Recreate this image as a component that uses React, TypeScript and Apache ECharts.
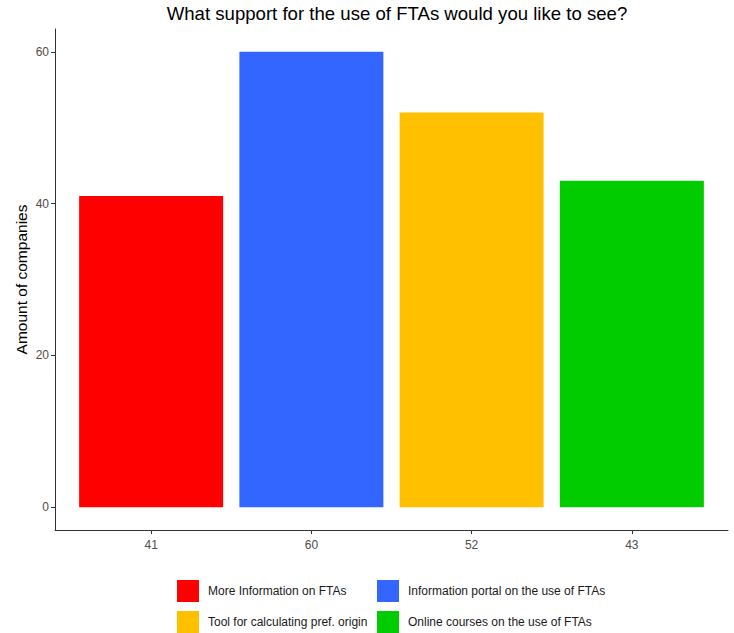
import React, { useEffect, useRef } from "react";
import * as echarts from "echarts";

const TITLE = "What support for the use of FTAs would you like to see?";
const Y_TITLE = "Amount of companies";
const SERIES_NAMES = [
  "More Information on FTAs",
  "Information portal on the use of FTAs",
  "Tool for calculating pref. origin",
  "Online courses on the use of FTAs",
];
const VALUES = [41, 60, 52, 43];
const X_LABELS = ["41", "60", "52", "43"];
const COLORS = ["#FF0000", "#3366FF", "#FFC000", "#00CC00"];
const Y_TICKS = [0, 20, 40, 60];
const X_POS = [1, 2, 3, 4];

export default function App() {
  const ref = useRef<HTMLDivElement>(null);
  useEffect(() => {
    if (!ref.current) return;
    const chart = echarts.init(ref.current, undefined, { renderer: "svg" });
    const font = "Liberation Sans, Arial, sans-serif";
    const legendPos = [
      { left: 177, top: 580 },
      { left: 377, top: 580 },
      { left: 177, top: 611 },
      { left: 377, top: 611 },
    ];
    chart.setOption({
      animation: false,
      backgroundColor: "#ffffff",
      textStyle: { fontFamily: font },
      title: {
        text: TITLE,
        left: 397,
        top: 4,
        padding: 0,
        textAlign: "center",
        textStyle: { fontSize: 18.6, fontWeight: "normal", color: "#000", fontFamily: font },
      },
      grid: { left: 55, right: 6, top: 29, bottom: 103, containLabel: false },
      xAxis: {
        type: "value",
        min: 0.4,
        max: 4.6,
        splitLine: { show: false },
        axisLine: { show: true, onZero: false, lineStyle: { color: "#333", width: 1 } },
        axisTick: { show: true, customValues: X_POS, length: 4, lineStyle: { color: "#333" } },
        axisLabel: {
          customValues: X_POS,
          formatter: (v: number) => X_LABELS[Math.round(v) - 1] ?? "",
          color: "#4D4D4D",
          fontSize: 12,
          margin: 9,
          fontFamily: font,
        },
      },
      yAxis: {
        type: "value",
        min: -3,
        max: 63,
        name: Y_TITLE,
        nameLocation: "middle",
        nameGap: 26,
        nameMoveOverlap: false,
        nameTextStyle: { fontSize: 15.5, color: "#000", fontFamily: font },
        splitLine: { show: false },
        axisLine: { show: true, onZero: false, lineStyle: { color: "#333", width: 1 } },
        axisTick: { show: true, customValues: Y_TICKS, length: 4, lineStyle: { color: "#333" } },
        axisLabel: {
          customValues: Y_TICKS,
          color: "#4D4D4D",
          fontSize: 12,
          margin: 6,
          fontFamily: font,
        },
      },
      legend: SERIES_NAMES.map((n, i) => ({
        data: [n],
        left: legendPos[i].left,
        top: legendPos[i].top,
        padding: 0,
        itemWidth: 22,
        itemHeight: 22,
        icon: "rect",
        selectedMode: false,
        textStyle: { fontSize: 12, color: "#1A1A1A", fontFamily: font, padding: [0, 0, 0, 4] },
      })),
      series: SERIES_NAMES.map((n, i) => ({
        type: "bar",
        name: n,
        data: [[X_POS[i], VALUES[i]]],
        barWidth: 144,
        barGap: "-100%",
        itemStyle: { color: COLORS[i] },
      })),
    });
    return () => chart.dispose();
  }, []);
  return <div ref={ref} style={{ width: 734, height: 633, position: "absolute", left: 0, top: 0 }} />;
}
